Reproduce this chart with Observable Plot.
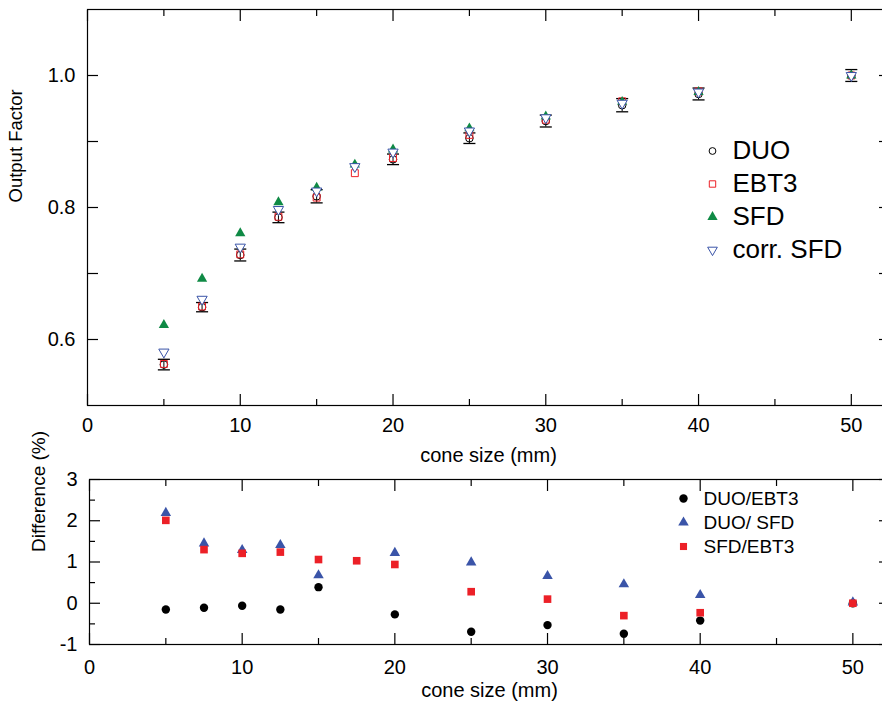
<!DOCTYPE html>
<html><head><meta charset="utf-8">
<script src="https://cdn.jsdelivr.net/npm/d3@7"></script>
<script src="https://cdn.jsdelivr.net/npm/@observablehq/plot@0.6"></script>
<style>
body{margin:0;background:#fff;}
#chart{width:882px;height:712px;overflow:hidden;font-family:"Liberation Sans",Arial,sans-serif;}
#chart svg{display:block;max-width:none !important;}
</style></head><body><div id="chart"></div>
<script>
// ---- data ----
const coneSize   = [5, 7.5, 10, 12.5, 15, 17.5, 20, 25, 30, 35, 40, 50];
const duoSize    = [5, 7.5, 10, 12.5, 15, 20, 25, 30, 35, 40, 50];
const duoOF      = [0.562, 0.649, 0.728, 0.785, 0.817, 0.873, 0.905, 0.931, 0.955, 0.972, 1.0];
const duoErr     = [0.008, 0.007, 0.009, 0.008, 0.010, 0.008, 0.008, 0.009, 0.010, 0.009, 0.009];
const ebt3OF     = [0.563, 0.650, 0.729, 0.786, 0.815, 0.852, 0.875, 0.910, 0.933, 0.961, 0.976, 1.0];
const sfdOF      = [0.622, 0.692, 0.761, 0.808, 0.830, 0.865, 0.888, 0.920, 0.938, 0.960, 0.975, 1.0];
const corrSfdOF  = [0.581, 0.661, 0.740, 0.797, 0.825, 0.862, 0.884, 0.916, 0.936, 0.958, 0.975, 1.0];

const diffDuoEbt3 = [-0.15, -0.11, -0.06, -0.15, 0.39, -0.27, -0.69, -0.53, -0.74, -0.42, 0.0]; // at duoSize
const diffDuoSfd  = [2.19, 1.45, 1.29, 1.41, 0.68, 1.22, 0.99, 0.66, 0.46, 0.20, 0.02];        // at duoSize
const diffSfdEbt3 = [2.01, 1.30, 1.21, 1.24, 1.06, 1.03, 0.94, 0.28, 0.10, -0.30, -0.23, 0.0]; // at coneSize

const topSeries    = ["DUO", "EBT3", "SFD", "corr. SFD"];
const bottomSeries = ["DUO/EBT3", "DUO/ SFD", "SFD/EBT3"];
const xMajor = [0, 10, 20, 30, 40, 50];
const xMinor = [5, 15, 25, 35, 45];
const topYTicks = [0.6, 0.7, 0.8, 0.9, 1.0];
const topYLabels = [0.6, 0.8, 1.0];
const botYMajor = [-1, 0, 1, 2, 3];
const botYMinor = [-0.5, 0.5, 1.5, 2.5];

// ---- styling ----
const FONT = '"Liberation Sans", Arial, sans-serif';
const GREEN = "#0f8a45", BLUE = "#3a54a8", RED = "#ec2027";
const sqrt3 = Math.sqrt(3);
const triDown = {draw(ctx, size) {
  const y = Math.sqrt(size / (sqrt3 * 3));
  ctx.moveTo(0, 2 * y); ctx.lineTo(-sqrt3 * y, -y); ctx.lineTo(sqrt3 * y, -y); ctx.closePath();
}};
const hbar = {draw(ctx, size) { const w = Math.sqrt(size); ctx.moveTo(-w / 2, 0); ctx.lineTo(w / 2, 0); }};

const duoRows  = duoSize.map((x, i) => ({x, y: duoOF[i], e: duoErr[i]}));
const ebtRows  = coneSize.map((x, i) => ({x, y: ebt3OF[i]}));
const sfdRows  = coneSize.map((x, i) => ({x, y: sfdOF[i]}));
const corrRows = coneSize.map((x, i) => ({x, y: corrSfdOF[i]}));
const dDE = duoSize.map((x, i) => ({x, y: diffDuoEbt3[i]}));
const dDS = duoSize.map((x, i) => ({x, y: diffDuoSfd[i]}));
const dSE = coneSize.map((x, i) => ({x, y: diffSfdEbt3[i]}));

const blank = () => "";
function frameAxes(xMaj, xMin, yMaj, yMin) {
  const m = [];
  for (const anchor of ["bottom", "top"]) {
    m.push(Plot.axisX(xMaj, {anchor, tickSize: -11, tickFormat: blank, label: null, strokeWidth: 1.2}));
    m.push(Plot.axisX(xMin, {anchor, tickSize: -6, tickFormat: blank, label: null, strokeWidth: 1.2}));
  }
  for (const anchor of ["left", "right"]) {
    m.push(Plot.axisY(yMaj, {anchor, tickSize: -11, tickFormat: blank, label: null, strokeWidth: 1.2}));
    if (yMin) m.push(Plot.axisY(yMin, {anchor, tickSize: -6, tickFormat: blank, label: null, strokeWidth: 1.2}));
  }
  return m;
}

// ---- top panel ----
const topLegendSym = [
  {symbol: "circle", r: 3.4, fill: "none", stroke: "black"},
  {symbol: "square", r: 3.6, fill: "none", stroke: RED},
  {symbol: "triangle", r: 3.8, fill: GREEN, stroke: "none"},
  {symbol: triDown, r: 3.6, fill: "none", stroke: BLUE}
];
const topLegend = topSeries.flatMap((name, i) => [
  Plot.dot([name], {frameAnchor: "top-left", dx: 625, dy: 141.5 + 33 * i, strokeWidth: 1, ...topLegendSym[i]}),
  Plot.text([name], {frameAnchor: "top-left", dx: 645, dy: 141.5 + 33 * i, text: d => d, textAnchor: "start", lineAnchor: "middle", fontSize: 26, fill: "black"})
]);

const topChart = Plot.plot({
  width: 889, height: 470,
  marginLeft: 87, marginRight: 0, marginTop: 9, marginBottom: 65,
  x: {domain: [0, 52.5], axis: null, label: null},
  y: {domain: [0.5, 1.1], axis: null, label: null},
  style: {fontFamily: FONT, fontSize: "20px", color: "black", background: "white", overflow: "visible"},
  marks: [
    ...frameAxes(xMajor, xMinor, topYTicks, null),
    Plot.axisX(xMajor, {anchor: "bottom", tickSize: 0, tickPadding: 12, fontSize: 20, tickFormat: d => String(d), label: null}),
    Plot.axisY(topYLabels, {anchor: "left", tickSize: 0, tickPadding: 12, fontSize: 20, tickFormat: d3.format(".1f"), label: null}),
    Plot.text(["cone size (mm)"], {frameAnchor: "bottom", dy: 50, text: d => d, fontSize: 20, lineAnchor: "middle"}),
    Plot.text(["Output Factor"], {frameAnchor: "left", dx: -71, dy: -5, rotate: -90, text: d => d, fontSize: 18.5, lineAnchor: "middle"}),
    Plot.ruleX(duoRows, {x: "x", y1: d => d.y - d.e, y2: d => d.y + d.e, stroke: "black", strokeWidth: 1}),
    Plot.dot(duoRows, {x: "x", y: d => d.y - d.e, symbol: hbar, r: 6.8, stroke: "black", fill: "none", strokeWidth: 1.3}),
    Plot.dot(duoRows, {x: "x", y: d => d.y + d.e, symbol: hbar, r: 6.8, stroke: "black", fill: "none", strokeWidth: 1.3}),
    Plot.dot(duoRows, {x: "x", y: "y", symbol: "circle", r: 3.8, stroke: "black", fill: "none", strokeWidth: 1}),
    Plot.dot(ebtRows, {x: "x", y: "y", symbol: "square", r: 3.9, stroke: RED, fill: "none", strokeWidth: 1}),
    Plot.dot(sfdRows, {x: "x", y: "y", symbol: "triangle", r: 3.8, fill: GREEN, stroke: "none"}),
    Plot.dot(corrRows, {x: "x", y: "y", symbol: triDown, r: 3.8, stroke: BLUE, fill: "white", strokeWidth: 1}),
    Plot.frame({stroke: "black", strokeWidth: 1.2}),
    ...topLegend
  ]
});

// ---- bottom panel ----
const botLegendSym = [
  {symbol: "circle", r: 4.2, fill: "black", stroke: "none"},
  {symbol: "triangle", r: 3.9, fill: BLUE, stroke: "none"},
  {symbol: "square", r: 4.0, fill: RED, stroke: "none"}
];
const botLegend = bottomSeries.flatMap((name, i) => [
  Plot.dot([name], {frameAnchor: "top-left", dx: 594, dy: 19 + 24 * i, ...botLegendSym[i]}),
  Plot.text([name], {frameAnchor: "top-left", dx: 614, dy: 19 + 24 * i, text: d => d, textAnchor: "start", lineAnchor: "middle", fontSize: 19, fill: "black"})
]);

const bottomChart = Plot.plot({
  width: 889, height: 242,
  marginLeft: 89, marginRight: 0, marginTop: 9, marginBottom: 68,
  x: {domain: [0, 52.4], axis: null, label: null},
  y: {domain: [-1, 3], axis: null, label: null},
  style: {fontFamily: FONT, fontSize: "20px", color: "black", background: "white", overflow: "visible"},
  marks: [
    ...frameAxes(xMajor, xMinor, botYMajor, botYMinor),
    Plot.axisX(xMajor, {anchor: "bottom", tickSize: 0, tickPadding: 15, fontSize: 20, tickFormat: d => String(d), label: null}),
    Plot.axisY(botYMajor, {anchor: "left", tickSize: 0, tickPadding: 12, fontSize: 20, tickFormat: d => String(d), label: null}),
    Plot.text(["cone size (mm)"], {frameAnchor: "bottom", dy: 46, text: d => d, fontSize: 20, lineAnchor: "middle"}),
    Plot.text(["Difference (%)"], {frameAnchor: "left", dx: -51, dy: -10, rotate: -90, text: d => d, fontSize: 19, lineAnchor: "middle"}),
    Plot.dot(dDE, {x: "x", y: "y", symbol: "circle", r: 4.2, fill: "black", stroke: "none"}),
    Plot.dot(dDS, {x: "x", y: "y", symbol: "triangle", r: 3.9, fill: BLUE, stroke: "none"}),
    Plot.dot(dSE, {x: "x", y: "y", symbol: "square", r: 4.3, fill: RED, stroke: "none"}),
    Plot.frame({stroke: "black", strokeWidth: 1.2}),
    ...botLegend
  ]
});

const chart = document.getElementById("chart");
chart.appendChild(topChart);
chart.appendChild(bottomChart);
</script>
</body></html>
